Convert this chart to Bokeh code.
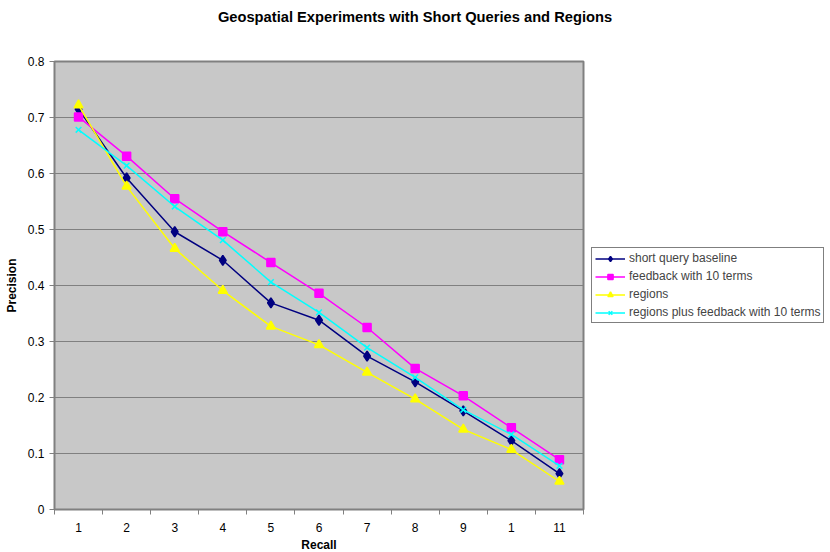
from bokeh.plotting import figure
from bokeh.models import FixedTicker, Legend, LegendItem, Div
from bokeh.layouts import column
from bokeh.embed import file_html
from bokeh.resources import INLINE

recall = [1, 2, 3, 4, 5, 6, 7, 8, 9, 10, 11]
tick_labels = ["1", "2", "3", "4", "5", "6", "7", "8", "9", "1", "11"]
baseline = [0.715, 0.592, 0.496, 0.445, 0.369, 0.338, 0.274, 0.228, 0.176, 0.123, 0.064]
feedback = [0.701, 0.631, 0.555, 0.496, 0.441, 0.386, 0.325, 0.252, 0.203, 0.146, 0.089]
regions = [0.722, 0.577, 0.466, 0.391, 0.327, 0.294, 0.245, 0.197, 0.143, 0.107, 0.050]
regions_fb = [0.678, 0.614, 0.541, 0.481, 0.406, 0.352, 0.289, 0.236, 0.178, 0.134, 0.078]
y_ticks = [0, 0.1, 0.2, 0.3, 0.4, 0.5, 0.6, 0.7, 0.8]
y_labels = ["0", "0.1", "0.2", "0.3", "0.4", "0.5", "0.6", "0.7", "0.8"]
title_text = "Geospatial Experiments with Short Queries and Regions"

FONT = "Liberation Sans"

title_div = Div(text=title_text, width=830, height=34, margin=0,
                styles={"text-align": "center", "font-family": FONT,
                        "font-size": "14.7px", "font-weight": "bold",
                        "line-height": "34px", "color": "#000000", "width": "830px"})

p = figure(frame_width=529, frame_height=448, output_backend="svg", toolbar_location=None,
           x_range=(0.5, 11.5), y_range=(0, 0.8),
           min_border_left=54, min_border_right=0, min_border_top=27, min_border_bottom=43)
p.background_fill_color = "#c8c8c8"
p.border_fill_color = "white"
p.outline_line_color = "#808080"
p.outline_line_width = 2

p.xgrid.visible = False
p.ygrid.grid_line_color = "#808080"
p.ygrid.grid_line_width = 1
p.ygrid.ticker = FixedTicker(ticks=y_ticks)

p.xaxis.ticker = FixedTicker(ticks=recall, minor_ticks=[x + 0.5 for x in range(0, 12)])
p.xaxis.major_label_overrides = {r: l for r, l in zip(recall, tick_labels)}
p.xaxis.major_tick_in = 0
p.xaxis.major_tick_out = 0
p.xaxis.minor_tick_in = 0
p.xaxis.minor_tick_out = 5
p.xaxis.axis_label = "Recall"

p.yaxis.ticker = FixedTicker(ticks=y_ticks, minor_ticks=[])
p.yaxis.major_label_overrides = {t: l for t, l in zip(y_ticks, y_labels)}
p.yaxis.major_tick_in = 0
p.yaxis.major_tick_out = 5
p.yaxis.axis_label = "Precision"

for ax in (p.xaxis, p.yaxis):
    ax.axis_line_color = "#808080"
    ax.major_tick_line_color = "#808080"
    ax.minor_tick_line_color = "#808080"
    ax.major_label_text_font = FONT
    ax.major_label_text_font_size = "12px"
    ax.major_label_text_color = "black"
    ax.axis_label_text_font = FONT
    ax.axis_label_text_font_size = "12px"
    ax.axis_label_text_font_style = "bold"
    ax.axis_label_text_color = "black"
p.xaxis.major_label_standoff = 8
p.xaxis.axis_label_standoff = 3
p.yaxis.major_label_standoff = 5
p.yaxis.axis_label_standoff = 6

series = [
    ("short query baseline", baseline, "#000080", "diamond", 10),
    ("feedback with 10 terms", feedback, "#ff00ff", "square", 8),
    ("regions", regions, "#ffff00", "triangle", 9),
    ("regions plus feedback with 10 terms", regions_fb, "#00ffff", "x", 8),
]
items = []
for name, vals, col, marker, size in series:
    ln = p.line(recall, vals, line_color=col, line_width=1.5)
    sc = p.scatter(recall, vals, marker=marker, size=size, fill_color=col,
                   line_color=col, line_width=1.5)
    items.append(LegendItem(label=name, renderers=[ln, sc]))

legend = Legend(items=items, location="center_left", orientation="vertical")
legend.label_text_font = FONT
legend.label_text_font_size = "12px"
legend.label_height = 13
legend.glyph_height = 13
legend.glyph_width = 30
legend.spacing = 4
legend.padding = 3
legend.margin = 8
legend.label_standoff = 4
legend.border_line_color = "black"
legend.border_line_width = 1
legend.background_fill_color = "white"
p.add_layout(legend, "right")

layout = column(title_div, p, spacing=0, margin=0)
open("out.html", "w").write(file_html(layout, INLINE))
